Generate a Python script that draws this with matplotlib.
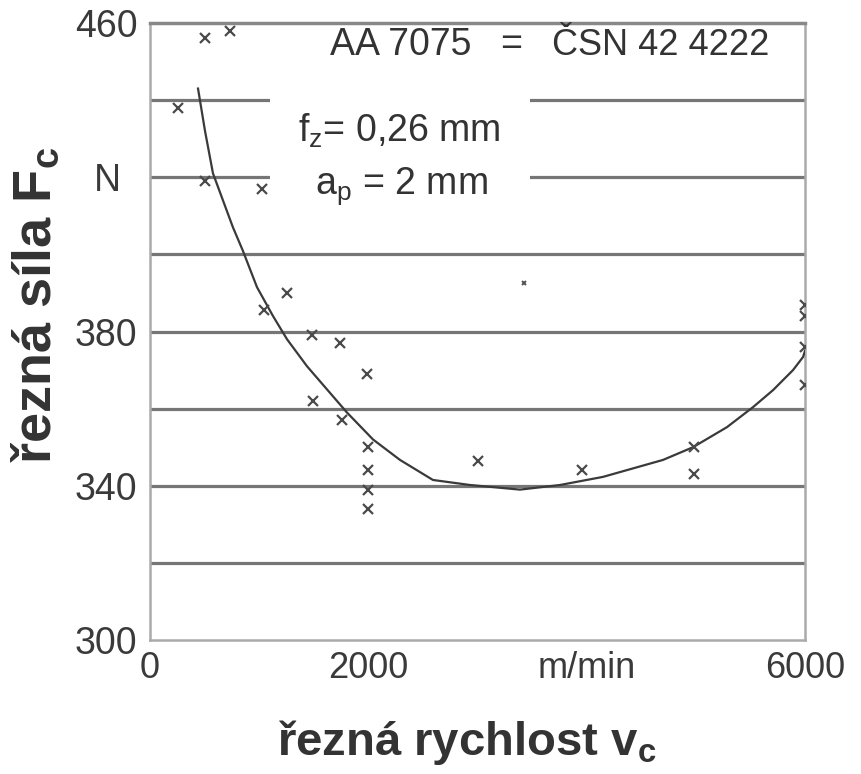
import matplotlib
matplotlib.use("Agg")
import matplotlib.pyplot as plt
from matplotlib.patches import Rectangle
from matplotlib.transforms import ScaledTranslation

# Fuente tipo Arial
fuente = "Liberation Sans"
plt.rcParams["font.family"] = [fuente, "DejaVu Sans"]
plt.rcParams["mathtext.fontset"] = "custom"
plt.rcParams["mathtext.rm"] = fuente
plt.rcParams["mathtext.it"] = fuente
plt.rcParams["mathtext.bf"] = fuente + ":bold"

# Puntos medidos (x)
v_body = [500, 730, 260, 500, 1030, 1040, 1255, 1480, 1740, 1990, 1490, 1760,
          2000, 2000, 2000, 2000, 3000, 3960, 4980, 4980, 6000, 6000, 6000, 6000]
F_body = [456, 458, 438, 419, 417, 385.5, 390, 379, 377, 369, 362, 357,
          350, 344, 339, 334, 346.5, 344, 350, 343, 387, 384, 376, 366]
v_odlehly = [3430]
F_odlehly = [392.5]

# Proložená křivka
v_krivka = [440, 504, 577, 760, 850, 980, 1127, 1255, 1438, 1621, 1804, 2043, 2290,
            2592, 2931, 3389, 3756, 4149, 4699, 4974, 5285, 5524, 5707, 5890, 5982, 6000]
F_krivka = [443, 432, 421, 407, 401, 391.5, 384, 378, 371, 365, 359, 352, 346.7,
            341.5, 340.2, 339, 340.2, 342.3, 346.7, 350, 355.2, 360.4, 364.8, 370, 373.4, 375]

mrizka = [320, 340, 360, 380, 400, 420, 440]
y_ticks = [300, 340, 380, 420, 460]
y_labels = ["300", "340", "380", "N", "460"]
x_ticks = [0, 2000, 4000, 6000]
x_labels = ["0", "2000", "m/min", "6000"]

fig = plt.figure(figsize=(8.61, 7.74), dpi=100)
ax = fig.add_axes([0.1742, 0.1731, 0.935 - 0.1742, 0.9703 - 0.1731])

for y in mrizka:
    ax.axhline(y, color="#767676", lw=2.3, zorder=1)

# Fondo blanco detrás de los parámetros
ax.add_patch(Rectangle((0.183, 0.705), 0.397, 0.195, transform=ax.transAxes,
                       facecolor="white", edgecolor="none", zorder=2))

ax.plot(v_krivka, F_krivka, color="#3a3a3a", lw=1.6, zorder=3)
ax.plot(v_body, F_body, ls="none", marker="x", ms=7, mew=1.6, color="#4a4a4a", zorder=4)
ax.plot(v_odlehly, F_odlehly, ls="none", marker="x", ms=3, mew=1.4, color="#555555", zorder=4)

ax.set_xlim(0, 6000)
ax.set_ylim(300, 460)
ax.set_xticks(x_ticks)
ax.set_xticklabels(x_labels)
ax.set_yticks(y_ticks)
ax.set_yticklabels(y_labels)
ax.tick_params(length=0, colors="#3a3a3a")
ax.tick_params(axis="x", labelsize=26, pad=8)
ax.tick_params(axis="y", labelsize=27, pad=9)

# "N" un poco a la izquierda
etiqueta_n = ax.get_yticklabels()[3]
etiqueta_n.set_transform(etiqueta_n.get_transform() + ScaledTranslation(-0.17, 0, fig.dpi_scale_trans))

for lado in ["left", "right", "bottom"]:
    ax.spines[lado].set_color("#aaaaaa")
    ax.spines[lado].set_linewidth(1.8)
ax.spines["top"].set_color("#888888")
ax.spines["top"].set_linewidth(2.5)

ax.set_xlabel(r"řezná rychlost $\mathbf{v_c}$", fontsize=34, fontweight="bold", color="#333333")
ax.set_ylabel(r"řezná síla $\mathbf{F_c}$", fontsize=39, fontweight="bold", color="#333333")
ax.xaxis.set_label_coords(0.484, -0.127)
ax.yaxis.set_label_coords(-0.135, 0.543)

# Textos dentro del gráfico
ax.text(0.383, 0.964, "AA 7075", transform=ax.transAxes, ha="center", va="center",
        fontsize=27, color="#333333", zorder=5)
ax.text(0.551, 0.964, "=", transform=ax.transAxes, ha="center", va="center",
        fontsize=27, color="#333333", zorder=5)
ax.text(0.780, 0.964, "ČSN 42 4222", transform=ax.transAxes, ha="center", va="center",
        fontsize=26, color="#333333", zorder=5)
ax.text(0.226, 0.825, r"$\mathregular{f_z}$= 0,26 mm", transform=ax.transAxes, ha="left", va="center",
        fontsize=27, color="#333333", zorder=5)
ax.text(0.252, 0.735, r"$\mathregular{a_p}$ = 2 mm", transform=ax.transAxes, ha="left", va="center",
        fontsize=27, color="#333333", zorder=5)

fig.savefig("out.png", dpi=100, facecolor="white")
